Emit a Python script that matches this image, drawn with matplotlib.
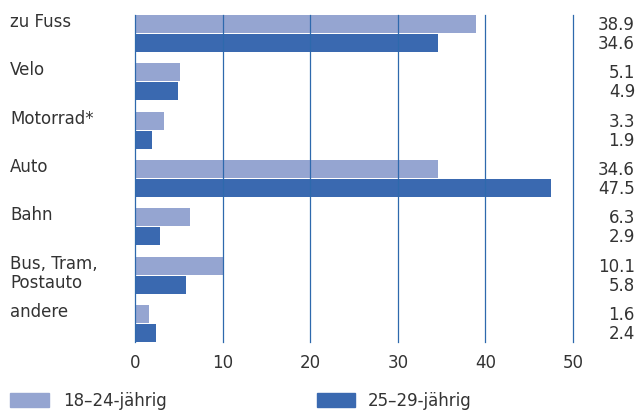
import matplotlib
matplotlib.use("Agg")
import matplotlib.pyplot as plt
import matplotlib.transforms as mtransforms
from matplotlib.patches import Rectangle

categories = ["zu Fuss", "Velo", "Motorrad*", "Auto", "Bahn", "Bus, Tram,\nPostauto", "andere"]
series_names = ["18\u201324-jährig", "25\u201329-jährig"]
young = [38.9, 5.1, 3.3, 34.6, 6.3, 10.1, 1.6]
older = [34.6, 4.9, 1.9, 47.5, 2.9, 5.8, 2.4]
xticks = [0, 10, 20, 30, 40, 50]

c_light = "#95a5d1"
c_dark = "#3a69b0"
c_grid = "#2e69ad"
c_text = "#333333"
fs = 12

plt.rcParams['font.family'] = ['DejaVu Sans']

fig = plt.figure(figsize=(6.4, 4.12), dpi=100)
ax = fig.add_axes([135/640, 1-342/412, 438/640, 327/412])

off = 0.196
h = 0.372
ys = list(range(len(categories)))
ax.barh([y - off for y in ys], young, height=h, color=c_light, zorder=1)
ax.barh([y + off for y in ys], older, height=h, color=c_dark, zorder=1)

for x in xticks:
    ax.axvline(x, color=c_grid, lw=0.9, zorder=3, clip_on=False)

ax.set_xlim(0, 50)
ax.set_ylim(len(categories) - 1 + off + h/2, -off - h/2)
ax.set_xticks(xticks)
ax.set_xticklabels([str(x) for x in xticks], fontsize=fs, color=c_text)
ax.tick_params(axis='x', length=0, pad=9)
ax.set_yticks([])
for s in ax.spines.values():
    s.set_visible(False)

tr_left = mtransforms.blended_transform_factory(fig.transFigure, ax.transData)
for y, lab in zip(ys, categories):
    for k, line in enumerate(lab.split("\n")):
        ax.text(10/640, y - off + k*2*off - 0.04, line, transform=tr_left,
                ha='left', va='center', fontsize=fs, color=c_text)

for y, a, b in zip(ys, young, older):
    ax.text(635/640, y - off + 0.02, f"{a:.1f}", transform=tr_left, ha='right', va='center',
            fontsize=fs, color=c_text)
    ax.text(635/640, y + off + 0.02, f"{b:.1f}", transform=tr_left, ha='right', va='center',
            fontsize=fs, color=c_text)

# legend
for (x0, x1, tx), col, name in zip([(10, 49, 63), (317, 355, 368)], [c_light, c_dark], series_names):
    fig.add_artist(Rectangle((x0/640, 1-407/412), (x1-x0)/640, 14/412,
                             transform=fig.transFigure, color=col))
    fig.text(tx/640, 1-401/412, name, ha='left', va='center', fontsize=fs, color=c_text)

fig.savefig("out.png", dpi=100)
